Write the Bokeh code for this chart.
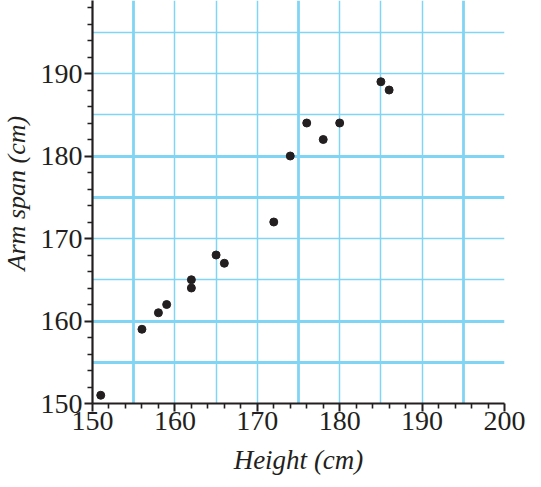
import math
from bokeh.plotting import figure
from bokeh.layouts import row
from bokeh.models import Range1d, FixedTicker, Grid, ColumnDataSource
from bokeh.core.properties import value
from bokeh.embed import file_html
from bokeh.resources import INLINE

# data
height_cm = [151, 156, 158, 159, 162, 162, 165, 166, 172, 174, 176, 178, 180, 185, 186]
arm_span_cm = [151, 159, 161, 162, 165, 164, 168, 167, 172, 180, 184, 182, 184, 189, 188]

x_major = [150, 160, 170, 180, 190, 200]
x_minor = [152, 154, 156, 158, 162, 164, 166, 168, 172, 174, 176, 178, 182, 184, 186, 188, 192, 194, 196, 198]
y_major = [150, 160, 170, 180, 190]
y_minor = [152, 154, 156, 158, 162, 164, 166, 168, 172, 174, 176, 178, 182, 184, 186, 188, 192, 194, 196, 198]

x_grid_thin = [160, 165, 170, 180, 185, 190]
x_grid_thick = [155, 175, 195, 200]
y_grid_thin = [165, 170, 185, 190, 195]
y_grid_thick = [155, 160, 175, 180]

x_title = "Height (cm)"
y_title = "Arm span (cm)"

INK = "#231f20"
GRID = "#80d4f4"
FONT = "Liberation Serif"

yr = Range1d(150, 198.85)

p = figure(width=501, height=479, output_backend="svg", toolbar_location=None,
           x_range=Range1d(150, 200), y_range=yr,
           min_border_left=60, min_border_right=29, min_border_top=0, min_border_bottom=76)
p.outline_line_color = None
p.xgrid.visible = False
p.ygrid.visible = False

for ticks, w, dim in [(x_grid_thin, 1.5, 0), (x_grid_thick, 2.8, 0),
                      (y_grid_thin, 1.5, 1), (y_grid_thick, 2.8, 1)]:
    g = Grid(dimension=dim, ticker=FixedTicker(ticks=ticks),
             grid_line_color=GRID, grid_line_width=w)
    p.add_layout(g)

src = ColumnDataSource(dict(x=height_cm, y=arm_span_cm))
p.scatter("x", "y", source=src, size=8, color=INK)

for ax, maj, mnr in [(p.xaxis[0], x_major, x_minor), (p.yaxis[0], y_major, y_minor)]:
    ax.ticker = FixedTicker(ticks=maj, minor_ticks=mnr)
    ax.axis_line_color = INK
    ax.axis_line_width = 2.2
    ax.major_tick_line_color = INK
    ax.major_tick_line_width = 2
    ax.major_tick_in = 0
    ax.major_tick_out = 8
    ax.minor_tick_line_color = INK
    ax.minor_tick_line_width = 1.6
    ax.minor_tick_in = 0
    ax.minor_tick_out = 5
    ax.major_label_text_font = FONT
    ax.major_label_text_font_size = "28px"
    ax.major_label_text_color = INK
    ax.axis_label_text_font = FONT
    ax.axis_label_text_font_size = "27px"
    ax.axis_label_text_font_style = "italic"
    ax.axis_label_text_color = INK

p.xaxis.axis_label = x_title
p.xaxis.major_label_standoff = 0
p.yaxis.major_label_standoff = 2
p.xaxis.axis_label_standoff = 12

# narrow strip on the left carrying the y title
t = figure(width=32, height=479, output_backend="svg", toolbar_location=None,
           x_range=Range1d(0, 32), y_range=yr,
           x_axis_location=None, y_axis_location=None,
           min_border_left=0, min_border_right=0, min_border_top=0, min_border_bottom=76)
t.outline_line_color = None
t.xgrid.visible = False
t.ygrid.visible = False
t.text(x=[15.5], y=[175.5], text=[y_title], angle=math.pi / 2,
       text_align="center", text_baseline="middle",
       text_font=value(FONT), text_font_size="26px", text_font_style="italic",
       text_color=INK)

layout = row(t, p, spacing=0)
open("out.html", "w").write(file_html(layout, INLINE))
